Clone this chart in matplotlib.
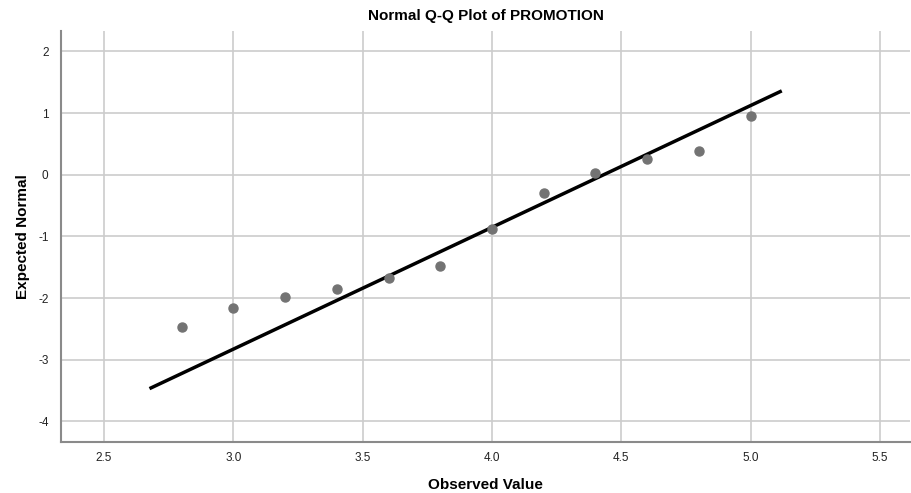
import matplotlib
matplotlib.use('Agg')
import matplotlib.pyplot as plt

# Valeurs observées et valeurs normales attendues
observed = [2.8, 3.0, 3.2, 3.4, 3.6, 3.8, 4.0, 4.2, 4.4, 4.6, 4.8, 5.0]
expected = [-2.47, -2.17, -1.99, -1.85, -1.68, -1.48, -0.88, -0.30, 0.03, 0.25, 0.38, 0.95]

# Droite de référence (extrémités)
line_x = [2.676, 5.12]
line_y = [-3.47, 1.36]

x_ticks = [2.5, 3.0, 3.5, 4.0, 4.5, 5.0, 5.5]
y_ticks = [-4, -3, -2, -1, 0, 1, 2]

plt.rcParams['font.family'] = ['Liberation Sans', 'DejaVu Sans']
plt.rcParams['axes.unicode_minus'] = False

fig = plt.figure(figsize=(9.12, 4.93), dpi=100)
ax = fig.add_axes([0.0669, 0.1034, 0.931, 0.8336])

ax.grid(True, color='#cccccc', linewidth=1.2)
ax.set_axisbelow(True)

ax.plot(line_x, line_y, color='black', linewidth=2.5, solid_capstyle='butt', zorder=3)
ax.plot(observed, expected, 'o', color='#737373', markersize=6.5, zorder=4)

ax.set_xlim(2.334, 5.616)
ax.set_ylim(-4.336, 2.33)
ax.set_xticks(x_ticks)
ax.set_xticklabels(['%.1f' % v for v in x_ticks])
ax.set_yticks(y_ticks)
ax.tick_params(length=0, labelsize=8.5, labelcolor='#222222')
ax.tick_params(axis='x', pad=7)
ax.tick_params(axis='y', pad=9)

for s in ['top', 'right']:
    ax.spines[s].set_visible(False)
for s in ['left', 'bottom']:
    ax.spines[s].set_color('#8a8a8a')
    ax.spines[s].set_linewidth(1.5)

ax.set_title('Normal Q-Q Plot of PROMOTION', fontsize=11, fontweight='bold', pad=8)
ax.set_xlabel('Observed Value', fontsize=11, fontweight='bold', labelpad=10)
ax.set_ylabel('Expected Normal', fontsize=11, fontweight='bold', labelpad=6)

fig.savefig('out.png', dpi=100)
